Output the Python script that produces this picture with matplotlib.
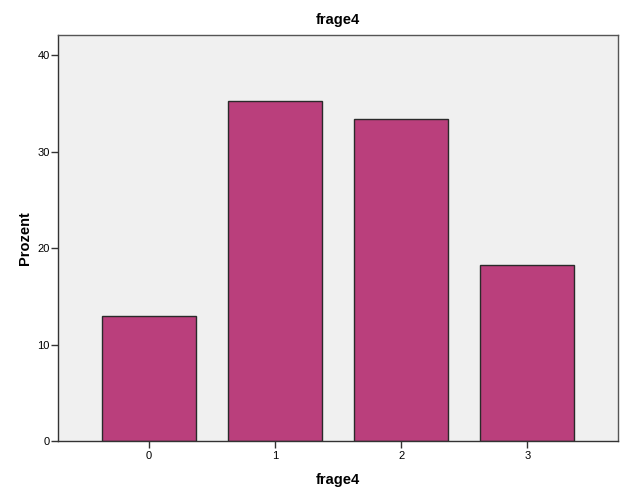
import matplotlib
matplotlib.use("Agg")
import matplotlib.pyplot as plt

categories = ["0", "1", "2", "3"]
percent = [13.0, 35.3, 33.4, 18.3]
yticks = [0, 10, 20, 30, 40]

plt.rcParams['font.family'] = ['Liberation Sans', 'DejaVu Sans']

fig = plt.figure(figsize=(6.26, 5.01), dpi=100)
ax = fig.add_axes([58/626, 60/501, 560/626, 406/501])
ax.set_facecolor('#F0F0F0')
x = list(range(len(categories)))
ax.bar(x, percent, width=0.75, color='#BA3F7C', edgecolor='#2A2A2A', linewidth=1.0, zorder=2)
ax.set_xlim(-0.72, 3.72)
ax.set_ylim(0, 42.1)
ax.set_xticks(x)
ax.set_xticklabels(categories)
ax.set_yticks(yticks)
ax.tick_params(axis='both', labelsize=8, length=5, width=1, color='#333333', direction='out')
ax.tick_params(axis='x', pad=2)
ax.tick_params(axis='y', pad=1)
for s in ax.spines.values():
    s.set_color('#555555')
    s.set_linewidth(1.0)
ax.spines['left'].set_color('#333333')
ax.spines['bottom'].set_color('#333333')
ax.set_title('frage4', fontsize=10.5, fontweight='bold', pad=8)
ax.set_xlabel('frage4', fontsize=10.5, fontweight='bold', labelpad=9)
ax.set_ylabel('Prozent', fontsize=10.5, fontweight='bold', labelpad=4)
fig.savefig('out.png', dpi=100)
